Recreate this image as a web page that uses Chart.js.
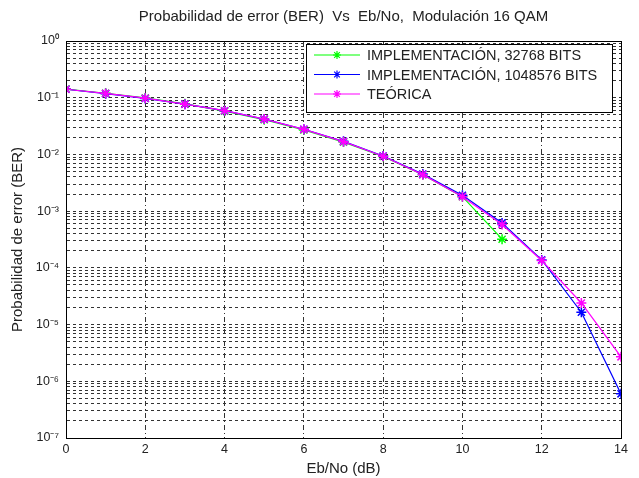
<!DOCTYPE html>
<html>
<head>
<meta charset="utf-8">
<script src="https://cdn.jsdelivr.net/npm/chart.js@4.4.1/dist/chart.umd.min.js"></script>
<style>
html,body{margin:0;padding:0;background:#fff;}
#wrap{width:639px;height:478px;}
</style>
</head>
<body>
<div id="wrap"><canvas id="myChart" width="639" height="478"></canvas></div>
<script>
// Eb/No in dB
const ebno = [0,1,2,3,4,5,6,7,8,9,10,11,12,13,14];
// BER
const ber32768 = [0.142,0.120,0.099,0.078,0.058,0.041,0.0270,0.0165,0.0092,0.0044,0.0018,0.00032,null,null,null];
const ber1048576 = [0.141,0.118,0.097,0.077,0.059,0.042,0.0278,0.0170,0.0094,0.0045,0.0019,0.00062,0.000138,0.0000165,0.0000006];
const berTeorica = [0.141,0.119,0.098,0.077,0.059,0.042,0.0277,0.0168,0.0093,0.0044,0.0018,0.00058,0.000135,0.000024,0.0000027];
const seriesNames = ['IMPLEMENTACIÓN, 32768 BITS','IMPLEMENTACIÓN, 1048576 BITS','TEÓRICA'];
const seriesColors = ['#00ff00','#0000ff','#ff00ff'];
const xTicks = [0,2,4,6,8,10,12,14];
const decades = [-7,-6,-5,-4,-3,-2,-1,0];

const FONT = "'Liberation Sans', Arial, sans-serif";
const sup = {'-':'⁻','0':'⁰','1':'¹','2':'²','3':'³','4':'⁴','5':'⁵','6':'⁶','7':'⁷','8':'⁸','9':'⁹'};
const toPts = (ys) => ebno.map((x,i) => ({x:x, y:ys[i]}));

const allSeries = [ber32768, ber1048576, berTeorica];
const datasets = allSeries.map((ys,i) => ({
  label: seriesNames[i],
  data: toPts(ys),
  borderColor: seriesColors[i],
  backgroundColor: seriesColors[i],
  borderWidth: 1.2,
  pointStyle: 'star',
  pointRadius: 5,
  pointBorderWidth: 1.5,
  order: 2 - i,
  spanGaps: false
}));

// box around plot + legend inside the axes, matlab style
const boxLegend = {
  id: 'boxLegend',
  afterDraw(chart){
    const c = chart.ctx, a = chart.chartArea;
    c.save();
    c.strokeStyle = '#000';
    c.lineWidth = 1;
    c.strokeRect(a.left+0.5, a.top+0.5, a.right-a.left, a.bottom-a.top);
    const w = 306, h = 68;
    const x0 = a.right - w - 9, y0 = a.top + 3;
    c.fillStyle = '#fff';
    c.fillRect(x0, y0, w, h);
    c.strokeRect(x0+0.5, y0+0.5, w, h);
    c.font = '14.5px ' + FONT;
    c.textBaseline = 'middle';
    seriesNames.forEach((name,i) => {
      const y = y0 + 11 + i*19.5;
      c.strokeStyle = seriesColors[i];
      c.lineWidth = 1.2;
      c.beginPath(); c.moveTo(x0+8, y); c.lineTo(x0+54, y); c.stroke();
      Chart.helpers.drawPoint(c, {pointStyle:'star', radius:4, borderWidth:1.5}, x0+31, y);
      c.fillStyle = '#222';
      c.fillText(name, x0+61, y+1);
    });
    c.restore();
  }
};

const config = {
  type: 'line',
  data: { datasets: datasets },
  options: {
    responsive: false,
    animation: false,
    layout: { padding: { left: 0, right: 18, top: 0, bottom: 0 } },
    plugins: {
      legend: { display: false },
      tooltip: { enabled: false },
      title: {
        display: true,
        fullSize: false,
        text: 'Probabilidad de error (BER)  Vs  Eb/No,  Modulación 16 QAM',
        color: '#222',
        font: { size: 15, family: FONT, weight: 'normal' },
        padding: { top: 8, bottom: 15 }
      }
    },
    scales: {
      x: {
        type: 'linear',
        min: 0, max: 14,
        afterBuildTicks: (s) => { s.ticks = xTicks.map(v => ({value: v})); },
        afterFit: (s) => { s.height = 40; },
        ticks: { color: '#222', font: { size: 12.5, family: FONT }, padding: 4, maxRotation: 0 },
        grid: { color: '#333', lineWidth: 1, drawTicks: false },
        border: { display: true, color: '#000', dash: [5,3,1,3] },
        title: { display: true, text: 'Eb/No (dB)', color: '#222', font: { size: 15, family: FONT }, padding: { top: 2, bottom: 0 } }
      },
      y: {
        type: 'logarithmic',
        min: 1e-7, max: 1,
        afterBuildTicks: (s) => {
          const t = [];
          decades.forEach(d => {
            if (d === 0) { t.push({value: 1}); return; }
            for (let m = 1; m <= 9; m++) t.push({value: m * Math.pow(10, d)});
          });
          s.ticks = t;
        },
        afterFit: (s) => { s.width = 66; },
        ticks: {
          autoSkip: false,
          color: '#222',
          font: { size: 12.5, family: FONT },
          padding: 7,
          callback: (v) => {
            const e = Math.log10(v);
            if (Math.abs(e - Math.round(e)) > 1e-9) return '';
            return '10' + String(Math.round(e)).split('').map(ch => sup[ch]).join('');
          }
        },
        grid: { color: '#333', lineWidth: 1, drawTicks: false },
        border: { display: true, color: '#000', dash: [3,3] },
        title: { display: true, text: 'Probabilidad de error (BER)', color: '#222', font: { size: 15, family: FONT }, padding: { top: 9, bottom: 0 } }
      }
    }
  },
  plugins: [boxLegend]
};

const myChart = new Chart(document.getElementById('myChart'), config);
</script>
</body>
</html>
